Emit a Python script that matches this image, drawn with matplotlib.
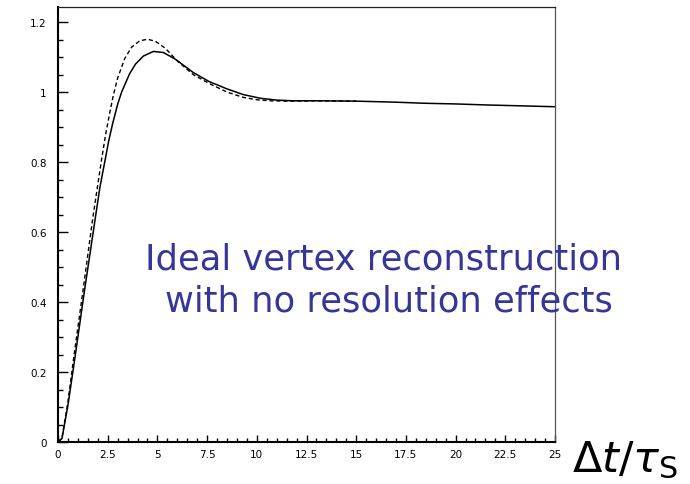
import matplotlib
matplotlib.use("Agg")
import matplotlib.pyplot as plt
from matplotlib.ticker import FixedLocator, MultipleLocator

# Proper-time distribution: with and without detector effects
dt_smeared = [0, 0.2, 0.5, 0.85, 1.3, 1.85, 2.1, 2.35, 2.55, 2.75, 3.0, 3.2, 3.6, 3.9, 4.3,
              4.8, 5.3, 5.9, 6.8, 7.6, 8.5, 9.3, 10.2, 11, 11.8, 13, 15, 17, 18.4, 20,
              21.6, 23, 25]
val_smeared = [0, 0.01, 0.105, 0.24, 0.42, 0.63, 0.725, 0.8, 0.86, 0.91, 0.965, 1.0, 1.052,
               1.08, 1.103, 1.116, 1.113, 1.094, 1.056, 1.03, 1.009, 0.993, 0.982, 0.977,
               0.975, 0.975, 0.974, 0.971, 0.968, 0.966, 0.963, 0.961, 0.958]

dt_ideal = [0, 0.2, 0.5, 0.8, 1.25, 1.75, 2.0, 2.2, 2.4, 2.6, 2.8, 3.0, 3.35, 3.7, 4.1, 4.5,
            4.9, 5.4, 6.0, 6.8, 7.65, 8.5, 9.3, 10.0, 10.7, 11.5, 13, 15]
val_ideal = [0, 0.012, 0.115, 0.245, 0.43, 0.64, 0.735, 0.81, 0.88, 0.94, 0.995, 1.04, 1.095,
             1.128, 1.146, 1.151, 1.145, 1.125, 1.089, 1.05, 1.023, 1.0, 0.985, 0.978,
             0.975, 0.974, 0.975, 0.974]

x_ticks = [0, 2.5, 5, 7.5, 10, 12.5, 15, 17.5, 20, 22.5, 25]
x_labels = ["0", "2.5", "5", "7.5", "10", "12.5", "15", "17.5", "20", "22.5", "25"]
y_ticks = [0, 0.2, 0.4, 0.6, 0.8, 1.0, 1.2]
y_labels = ["0", "0.2", "0.4", "0.6", "0.8", "1", "1.2"]

plt.rcParams["mathtext.fontset"] = "dejavusans"

fig = plt.figure(figsize=(6.9, 4.85), dpi=100)
ax = fig.add_axes([58 / 690, 42 / 485, 497 / 690, 435 / 485])

ax.plot(dt_ideal, val_ideal, color="black", lw=1.0, ls=(0, (3, 2)))
ax.plot(dt_smeared, val_smeared, color="black", lw=1.1)

ax.set_xlim(0, 25)
ax.set_ylim(0, 1.243)

ax.xaxis.set_major_locator(FixedLocator(x_ticks))
ax.set_xticklabels(x_labels)
ax.yaxis.set_major_locator(FixedLocator(y_ticks))
ax.set_yticklabels(y_labels)
ax.xaxis.set_minor_locator(MultipleLocator(0.5))
ax.yaxis.set_minor_locator(MultipleLocator(0.05))

ax.tick_params(axis="both", which="both", direction="in", top=False, right=False,
               colors="black", labelsize=7.5, width=1.0)
ax.tick_params(axis="x", which="major", length=5.2, pad=5)
ax.tick_params(axis="x", which="minor", length=2.6)
ax.tick_params(axis="y", which="major", length=7.2, pad=8)
ax.tick_params(axis="y", which="minor", length=3.6)

for s in ("left", "bottom"):
    ax.spines[s].set_linewidth(1.5)
    ax.spines[s].set_color("black")
ax.spines["top"].set_linewidth(0.9)
ax.spines["top"].set_color("#222222")
ax.spines["right"].set_linewidth(0.9)
ax.spines["right"].set_color("#555555")

blue = "#35359a"
fig.text(145 / 690, 1 - 260 / 485, "Ideal vertex reconstruction", color=blue,
         fontsize=25.4, family="DejaVu Sans", va="center", ha="left")
fig.text(165 / 690, 1 - 302 / 485, "with no resolution effects", color=blue,
         fontsize=25.4, family="DejaVu Sans", va="center", ha="left")

fig.text(572 / 690, 1 - 472 / 485, r"$\Delta\mathit{t}/\tau_{\mathrm{S}}$",
         fontsize=31, color="black", ha="left", va="baseline")

fig.savefig("out.png", dpi=100)
